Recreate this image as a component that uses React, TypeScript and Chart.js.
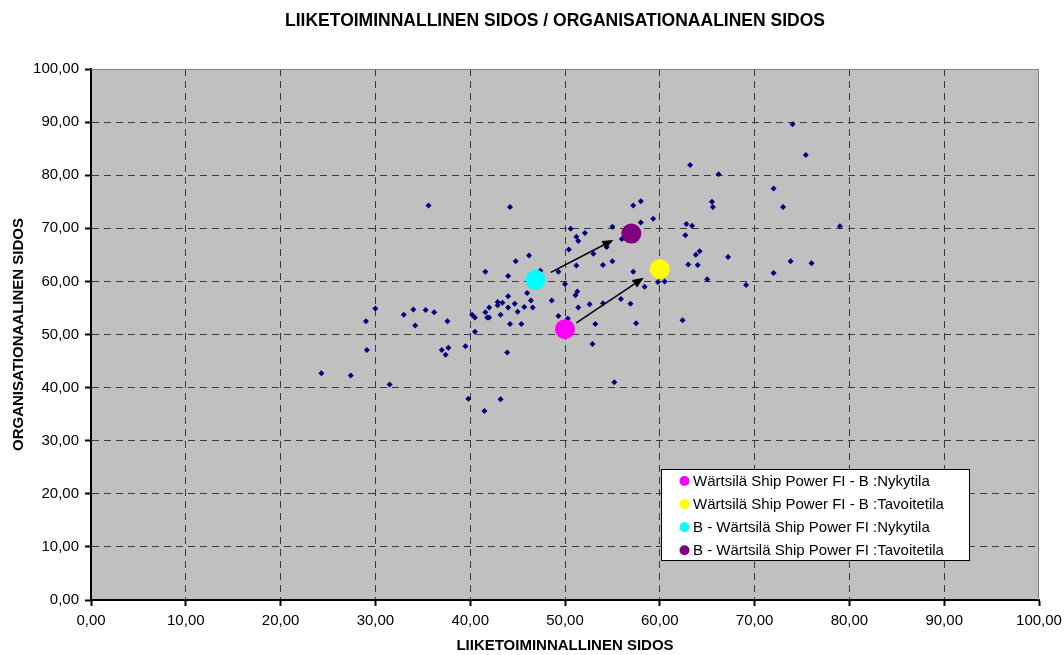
import React, { useEffect, useRef } from 'react';
import { Chart, registerables } from 'chart.js';

Chart.register(...registerables);

const TITLE = 'LIIKETOIMINNALLINEN SIDOS / ORGANISATIONAALINEN SIDOS';
const X_TITLE = 'LIIKETOIMINNALLINEN SIDOS';
const Y_TITLE = 'ORGANISATIONAALINEN SIDOS';

// Other units (small navy diamonds)
const otherX = [
  35.6, 44.2, 46.2, 44.8, 41.6, 44.0, 47.4, 49.3, 30.0, 29.0,
  33.0, 34.0, 35.3, 36.2, 34.2, 37.6, 40.2, 40.5, 40.5, 41.6,
  42.0, 41.8, 42.0, 42.9, 42.9, 43.4, 44.0, 44.0, 43.2, 44.7,
  45.0, 45.7, 46.0, 46.4, 46.6, 44.2, 45.4, 48.6, 49.3, 29.1,
  24.3, 27.4, 31.5, 37.0, 37.7, 37.4, 39.5, 43.9, 39.8, 43.2,
  41.5,
  74.0, 75.4, 63.2, 66.2, 72.0, 73.0, 57.2, 58.0, 65.5, 65.6,
  59.3, 58.0, 79.0, 55.0, 50.6, 52.1, 62.8, 63.4, 62.7, 51.2,
  51.4, 54.4, 56.0, 50.4, 53.0, 55.0, 54.0, 51.2, 57.2, 64.2,
  63.8, 67.2, 63.0, 64.0, 73.8, 76.0, 72.0, 65.0, 69.1, 59.8,
  60.5, 58.4, 50.0, 51.3, 51.1, 52.6, 54.0, 55.9, 56.9, 51.4,
  50.3, 53.2, 57.5, 62.4, 52.9, 55.2,
];
const otherY = [
  74.3, 74.0, 64.9, 63.8, 61.8, 61.0, 62.0, 61.8, 54.9, 52.5,
  53.7, 54.7, 54.6, 54.2, 51.7, 52.5, 53.7, 53.2, 50.5, 54.2,
  55.1, 53.2, 53.2, 56.1, 55.5, 56.0, 57.2, 55.1, 53.7, 55.8,
  54.3, 55.2, 57.8, 56.4, 55.1, 52.0, 52.0, 56.4, 53.5, 47.1,
  42.7, 42.3, 40.6, 47.1, 47.5, 46.2, 47.8, 46.6, 37.9, 37.8,
  35.6,
  89.6, 83.8, 81.9, 80.2, 77.5, 74.0, 74.3, 75.1, 75.0, 74.0,
  71.8, 71.1, 70.4, 70.3, 69.9, 69.1, 70.8, 70.5, 68.7, 68.4,
  67.6, 66.5, 68.0, 66.0, 65.2, 63.8, 63.1, 63.0, 61.8, 65.7,
  65.0, 64.6, 63.2, 63.1, 63.8, 63.4, 61.6, 60.4, 59.3, 59.9,
  60.0, 59.0, 59.5, 58.1, 57.4, 55.7, 55.9, 56.7, 55.8, 55.1,
  53.0, 52.0, 52.1, 52.7, 48.2, 41.0,
];

// Highlighted series
const highlightLabels = [
  'Wärtsilä Ship Power FI - B :Nykytila',
  'Wärtsilä Ship Power FI - B :Tavoitetila',
  'B - Wärtsilä Ship Power FI :Nykytila',
  'B - Wärtsilä Ship Power FI :Tavoitetila',
];
const highlightX = [50.0, 60.0, 46.9, 57.0];
const highlightY = [51.0, 62.3, 60.3, 69.0];
const highlightColors = ['#FF00FF', '#FFFF00', '#00FFFF', '#800080'];

// Arrows (data coordinates): current -> target
const arrowFromX = [48.5, 51.2];
const arrowFromY = [61.7, 52.2];
const arrowToX = [55.1, 58.3];
const arrowToY = [67.8, 60.7];

const tickValues = [0, 10, 20, 30, 40, 50, 60, 70, 80, 90, 100];

const FONT = '"Liberation Sans", Arial, Helvetica, sans-serif';
const fmt = (v: number) => v.toFixed(2).replace('.', ',');

const bgPlugin = {
  id: 'plotBg',
  beforeDraw(chart: any) {
    const { ctx, chartArea: a } = chart;
    ctx.save();
    ctx.fillStyle = '#C0C0C0';
    ctx.fillRect(a.left, a.top, a.right - a.left, a.bottom - a.top);
    ctx.restore();
  },
  beforeDatasetsDraw(chart: any) {
    const { ctx, chartArea: a } = chart;
    ctx.save();
    ctx.strokeStyle = '#808080';
    ctx.lineWidth = 1;
    ctx.beginPath();
    ctx.moveTo(a.left, a.top + 0.5);
    ctx.lineTo(a.right - 0.5, a.top + 0.5);
    ctx.lineTo(a.right - 0.5, a.bottom);
    ctx.stroke();
    ctx.restore();
  },
};

const arrowPlugin = {
  id: 'arrows',
  afterDatasetsDraw(chart: any) {
    const { ctx } = chart;
    const xs = chart.scales.x;
    const ys = chart.scales.y;
    ctx.save();
    ctx.strokeStyle = '#000';
    ctx.fillStyle = '#000';
    ctx.lineWidth = 1.5;
    for (let i = 0; i < arrowFromX.length; i++) {
      const x1 = xs.getPixelForValue(arrowFromX[i]);
      const y1 = ys.getPixelForValue(arrowFromY[i]);
      const x2 = xs.getPixelForValue(arrowToX[i]);
      const y2 = ys.getPixelForValue(arrowToY[i]);
      const ang = Math.atan2(y2 - y1, x2 - x1);
      const len = 11;
      const hw = 4.5;
      const bx = x2 - len * Math.cos(ang);
      const by = y2 - len * Math.sin(ang);
      ctx.beginPath();
      ctx.moveTo(x1, y1);
      ctx.lineTo(bx, by);
      ctx.stroke();
      ctx.beginPath();
      ctx.moveTo(x2, y2);
      ctx.lineTo(bx + hw * Math.sin(ang), by - hw * Math.cos(ang));
      ctx.lineTo(bx - hw * Math.sin(ang), by + hw * Math.cos(ang));
      ctx.closePath();
      ctx.fill();
    }
    ctx.restore();
  },
};

const titlePlugin = {
  id: 'customTitle',
  afterDraw(chart: any) {
    const { ctx } = chart;
    ctx.save();
    ctx.font = `bold 17.5px ${FONT}`;
    ctx.fillStyle = '#000';
    ctx.textAlign = 'center';
    ctx.textBaseline = 'alphabetic';
    ctx.fillText(TITLE, 555, 26);
    ctx.restore();
  },
};

const legendPlugin = {
  id: 'customLegend',
  afterDraw(chart: any) {
    const { ctx } = chart;
    const left = 661.5;
    const top = 469.5;
    const w = 308;
    const h = 91;
    ctx.save();
    ctx.fillStyle = '#FFFFFF';
    ctx.fillRect(left, top, w, h);
    ctx.strokeStyle = '#000';
    ctx.lineWidth = 1;
    ctx.strokeRect(left, top, w, h);
    ctx.font = `15px ${FONT}`;
    ctx.textBaseline = 'middle';
    ctx.textAlign = 'left';
    highlightLabels.forEach((label, i) => {
      const cy = 481 + i * 23.1;
      ctx.beginPath();
      ctx.fillStyle = highlightColors[i];
      ctx.arc(684.5, cy, 5, 0, Math.PI * 2);
      ctx.fill();
      ctx.fillStyle = '#000';
      ctx.fillText(label, 693, cy + 0.5);
    });
    ctx.restore();
  },
};

export default function App() {
  const ref = useRef<HTMLCanvasElement | null>(null);

  useEffect(() => {
    if (!ref.current) return;
    const datasets: any[] = highlightLabels.map((label, i) => ({
      label,
      data: [{ x: highlightX[i], y: highlightY[i] }],
      backgroundColor: highlightColors[i],
      borderColor: highlightColors[i],
      borderWidth: 0,
      pointRadius: 10,
      pointStyle: 'circle',
    }));
    datasets.push({
      label: 'Muut',
      data: otherX.map((x, i) => ({ x, y: otherY[i] })),
      backgroundColor: '#000080',
      borderColor: '#000080',
      borderWidth: 0,
      pointRadius: 3,
      pointStyle: 'rectRot',
    });

    const gridColor = (c: any) =>
      c.tick && (c.tick.value === 100 || c.tick.value === 0) ? 'rgba(0,0,0,0)' : '#3a3a3a';

    const chart = new Chart(ref.current, {
      type: 'scatter',
      data: { datasets },
      options: {
        animation: false,
        responsive: false,
        devicePixelRatio: 1,
        layout: { padding: { top: 69, right: 25, left: 0, bottom: 0 } },
        plugins: {
          legend: { display: false },
          title: { display: false },
          tooltip: { enabled: false },
        },
        scales: {
          x: {
            type: 'linear',
            min: 0,
            max: 100,
            afterFit: (s: any) => {
              s.height = 55;
              s.paddingLeft = 0;
              s.paddingRight = 0;
            },
            afterBuildTicks: (s: any) => { s.ticks = tickValues.map((v) => ({ value: v })); },
            ticks: {
              callback: (v: any) => fmt(Number(v)),
              color: '#000',
              font: { family: FONT, size: 15 },
              padding: 6,
              maxRotation: 0,
              autoSkip: false,
            },
            grid: {
              color: gridColor,
              lineWidth: 1,
              tickLength: 6,
              tickWidth: 2,
              tickColor: '#000',
              tickBorderDash: [],
            },
            border: { display: true, color: '#000', width: 2, dash: [7, 5] },
            title: {
              display: true,
              text: X_TITLE,
              color: '#000',
              font: { family: FONT, size: 15, weight: 'bold' },
              padding: { top: 0, bottom: 0 },
            },
          },
          y: {
            type: 'linear',
            min: 0,
            max: 100,
            afterFit: (s: any) => {
              s.width = 91;
              s.paddingTop = 0;
              s.paddingBottom = 0;
            },
            afterBuildTicks: (s: any) => { s.ticks = tickValues.map((v) => ({ value: v })); },
            ticks: {
              callback: (v: any) => fmt(Number(v)),
              color: '#000',
              font: { family: FONT, size: 15 },
              padding: 6,
              autoSkip: false,
            },
            grid: {
              color: gridColor,
              lineWidth: 1,
              tickLength: 6,
              tickWidth: 2,
              tickColor: '#000',
              tickBorderDash: [],
            },
            border: { display: true, color: '#000', width: 2, dash: [7, 5] },
            title: {
              display: true,
              text: Y_TITLE,
              color: '#000',
              font: { family: FONT, size: 15, weight: 'bold' },
              padding: { top: 10, bottom: 0 },
            },
          },
        },
      } as any,
      plugins: [bgPlugin, arrowPlugin, titlePlugin, legendPlugin],
    });
    return () => chart.destroy();
  }, []);

  return (
    <div style={{ position: 'absolute', left: 0, top: 0, width: 1064, height: 655 }}>
      <canvas ref={ref} width={1064} height={655} style={{ display: 'block', width: 1064, height: 655 }} />
    </div>
  );
}
